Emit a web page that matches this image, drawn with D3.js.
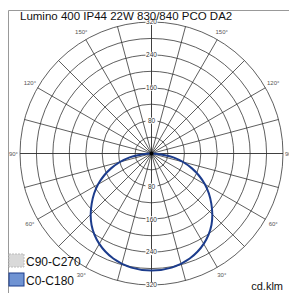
<!DOCTYPE html>
<html>
<head>
<meta charset="utf-8">
<script src="https://cdn.jsdelivr.net/npm/d3@7"></script>
<style>
  body { margin: 0; background: #fff; }
  text { font-family: Arial, "Liberation Sans", sans-serif; }
</style>
</head>
<body>
<div id="chart"></div>
<script>
// polar data (cd/klm)
const title = "Lumino 400 IP44 22W 830/840 PCO DA2";
const gammas = [0, 10, 20, 30, 40, 50, 60, 70, 80, 90];
const c0 = [285, 282, 272, 254, 227, 190, 150, 104, 54, 4];
const c180 = [285, 282, 272, 254, 227, 190, 150, 104, 54, 4];
const ringTicks = [40, 80, 120, 160, 200, 240, 280, 320];
const ringLabels = [80, 160, 240, 320];
const angleLabels = [30, 60, 90, 120, 150];
const legendNames = ["C90-C270", "C0-C180"];

const width = 289, height = 293;
const cx = 151.5, cy = 153.5, R = 131.5;

const svg = d3.select("#chart").append("svg")
    .attr("width", width)
    .attr("height", height);

svg.append("rect").attr("width", width).attr("height", height).attr("fill", "#fff");

// frame
svg.append("path")
    .attr("d", `M8.5,${height} V10.5 H${width}`)
    .attr("fill", "none")
    .attr("stroke", "#999");

const rScale = d3.scaleLinear().domain([0, 320]).range([0, R]);

const g = svg.append("g").attr("transform", `translate(${cx},${cy})`);

// rings
g.selectAll("circle.ring")
    .data(ringTicks)
    .enter()
    .append("circle")
        .attr("class", "ring")
        .attr("r", function(d) { return rScale(d); })
        .attr("fill", "none")
        .attr("stroke", "#2a2a2a")
        .attr("stroke-width", 0.75);

// spokes every 15 degrees
const spokes = d3.range(0, 360, 15);
g.selectAll("line.spoke")
    .data(spokes)
    .enter()
    .append("line")
        .attr("class", "spoke")
        .attr("x1", 0).attr("y1", 0)
        .attr("x2", function(d) { return R * Math.sin(d * Math.PI / 180); })
        .attr("y2", function(d) { return R * Math.cos(d * Math.PI / 180); })
        .attr("stroke", "#2a2a2a")
        .attr("stroke-width", function(d) { return d % 90 === 0 ? 0.9 : 0.75; });

// angle labels
const angLab = [];
angleLabels.forEach(function(a) { angLab.push({a: a, side: 1}); angLab.push({a: a, side: -1}); });
g.selectAll("text.ang")
    .data(angLab)
    .enter()
    .append("text")
        .attr("class", "ang")
        .attr("x", function(d) {
            if (d.a === 90) return d.side > 0 ? R + 2 : -R - 2;
            return d.side * (R + 9) * Math.sin(d.a * Math.PI / 180);
        })
        .attr("y", function(d) { return (R + 9) * Math.cos(d.a * Math.PI / 180); })
        .attr("dy", "0.35em")
        .attr("text-anchor", function(d) {
            if (d.a === 90) return d.side > 0 ? "start" : "end";
            return "middle";
        })
        .attr("font-size", 6)
        .attr("fill", "#555")
        .text(function(d) { return d.a + "°"; });

// curve C0-C180
const pts = [];
for (let i = gammas.length - 1; i >= 0; i--) pts.push([Math.PI + gammas[i] * Math.PI / 180, rScale(c180[i])]);
for (let i = 1; i < gammas.length; i++) pts.push([Math.PI - gammas[i] * Math.PI / 180, rScale(c0[i])]);

const radial = d3.lineRadial()
    .angle(function(d) { return d[0]; })
    .radius(function(d) { return d[1]; })
    .curve(d3.curveCatmullRom);

g.append("path")
    .datum(pts)
    .attr("d", radial)
    .attr("fill", "none")
    .attr("stroke", "#1c3c8c")
    .attr("stroke-width", 2);

// center dot
g.append("circle").attr("r", 2).attr("fill", "#000");

// ring value labels, up and down
const rl = [];
ringLabels.forEach(function(v) { rl.push({v: v, s: -1}); rl.push({v: v, s: 1}); });
const rlg = g.selectAll("g.rl")
    .data(rl)
    .enter()
    .append("g")
        .attr("class", "rl")
        .attr("transform", function(d) { return `translate(0,${d.s * rScale(d.v)})`; });
rlg.append("rect")
    .attr("x", -6).attr("y", -3)
    .attr("width", 12).attr("height", 6)
    .attr("fill", "#fff");
rlg.append("text")
    .attr("text-anchor", "middle")
    .attr("dy", "0.35em")
    .attr("font-size", 6.5)
    .attr("fill", "#333")
    .text(function(d) { return d.v; });

// title
svg.append("text")
    .attr("x", 20)
    .attr("y", 20)
    .attr("font-size", 11.5)
    .attr("fill", "#111")
    .text(title);

// legend
const leg = svg.selectAll("g.leg")
    .data(legendNames)
    .enter()
    .append("g")
        .attr("class", "leg")
        .attr("transform", function(d, i) { return `translate(9,${254 + i * 19})`; });
leg.append("rect")
    .attr("width", 15).attr("height", 13)
    .attr("fill", function(d, i) { return i === 0 ? "#d9d9d9" : "#6f93d3"; })
    .attr("stroke", function(d, i) { return i === 0 ? "#bbb" : "#1c3c8c"; })
    .attr("stroke-dasharray", function(d, i) { return i === 0 ? "2,1" : null; });
leg.append("text")
    .attr("x", 17)
    .attr("y", 12)
    .attr("font-size", 12)
    .attr("fill", "#111")
    .text(function(d) { return d; });

svg.append("text")
    .attr("x", 283)
    .attr("y", 290)
    .attr("text-anchor", "end")
    .attr("font-size", 11)
    .attr("fill", "#111")
    .text("cd.klm");
</script>
</body>
</html>
